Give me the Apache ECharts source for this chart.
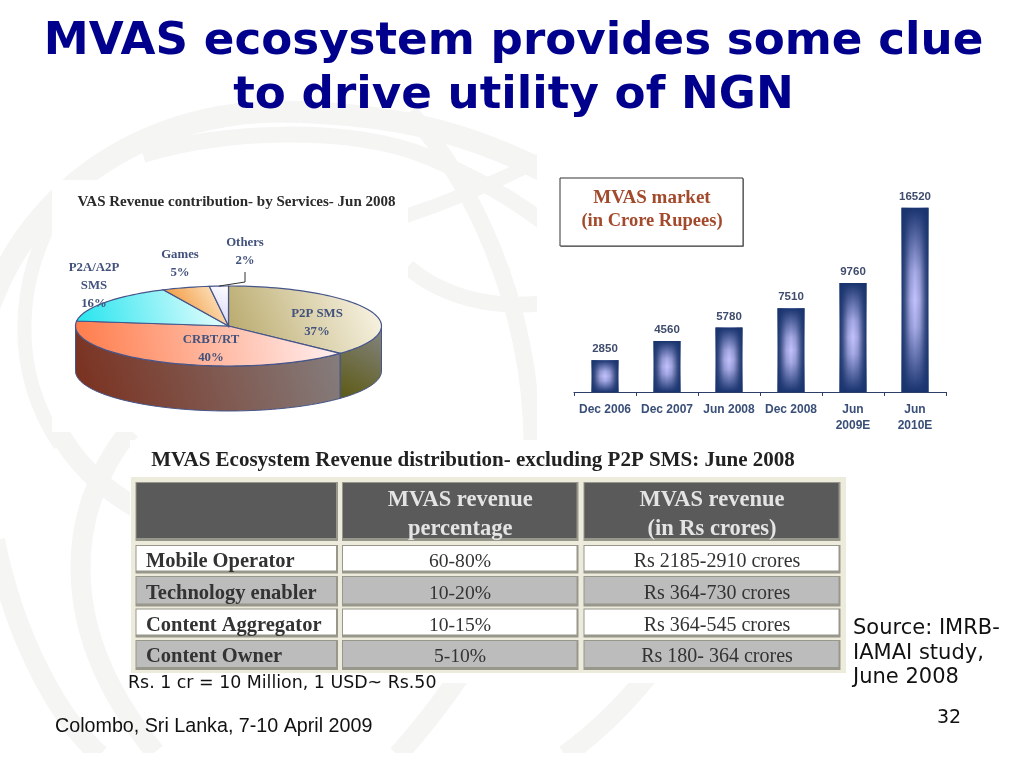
<!DOCTYPE html>
<html><head><meta charset="utf-8">
<style>html,body{margin:0;padding:0;background:#fff}#c{width:1024px;height:768px}</style>
<script src="https://cdn.jsdelivr.net/npm/echarts@6/dist/echarts.min.js"></script>
</head><body><div id="c"></div>
<script>
// ---- data ----
const barCategories = ['Dec 2006','Dec 2007','Jun 2008','Dec 2008','Jun\n2009E','Jun\n2010E'];
const barValues = [2850,4560,5780,7510,9760,16520];
const pieNames = ['P2P SMS','CRBT/RT','P2A/A2P\nSMS','Games','Others'];
const pieValues = [37,40,16,5,2];
const tableRows = ['Mobile Operator','Technology enabler','Content Aggregator','Content Owner'];
const tablePercent = ['60-80%','10-20%','10-15%','5-10%'];
const tableCrores = ['Rs 2185-2910 crores','Rs 364-730 crores','Rs 364-545 crores','Rs 180- 364 crores'];
const tableHeaders = [['MVAS revenue','percentage'],['MVAS revenue','(in Rs crores)']];

// ---- layout and styles (separate from the data) ----
const pieGeom = {cx:228.5, cy:326, rx:153, ry:40, depth:45};
const pieLabelPos = [[317,314],[211,340],[94,268],[180,255],[245,243]];
const pieTop = [['#b5a565','#fdf9ec'],['#ff7a48','#fff2f4'],['#22e4ee','#f4ffff'],['#ee7f10','#fff4de'],['#cfcff8','#ffffff']];
const pieSide = [['#5c5a12','#858585'],['#7a2e1c','#858080'],['#777','#777'],['#777','#777'],['#777','#777']];
const wmColor = '#f5f5f4';
const wmBands = [
 [-10,305,40,170,170,105,300,112,22],[300,112,390,115,470,130,560,180,22],
 [143,155,220,130,350,125,428,157,16],[428,157,470,175,510,195,560,235,16],
 [410,112,470,180,530,300,532,440,17],[408,267,440,295,490,310,545,303,16],
 [400,218,440,205,490,185,540,160,14],[60,205,15,280,10,370,60,445,14],
 [55,425,75,465,105,490,140,510,20],[130,430,65,510,55,630,155,752,20],
 [-5,540,15,640,60,720,100,755,20],[470,660,445,700,420,730,398,755,20],
 [660,660,630,700,600,730,565,755,20]
];
const frame = {x:131,y:477,w:715,h:196};
const cols = [[136.5,337],[343,577.5],[584.5,839.5]];
const headRow = [483,540];
const rowsY = [[546,572.5],[577,605.5],[609.5,636.5],[641,669]];
const rowText = [560,592,624,655];
const serif = '"Liberation Serif"', sans = '"Liberation Sans"', dv = '"DejaVu Sans"';

function rect(x,y,w,h,fill,stroke){return {type:'rect',shape:{x,y,width:w,height:h},style:{fill,stroke:stroke||null,lineWidth:stroke?1:0},silent:true};}
function txt(s,x,y,font,fill,align){return {type:'text',x,y:y+1.5,style:{text:s,font,fill,textAlign:align||'center',textVerticalAlign:'middle'},silent:true};}

const g = [];
wmBands.forEach(b=>g.push({type:'bezierCurve',shape:{x1:b[0],y1:b[1],cpx1:b[2],cpy1:b[3],cpx2:b[4],cpy2:b[5],x2:b[6],y2:b[7]},style:{stroke:wmColor,lineWidth:b[8],fill:null},silent:true}));
g.push(rect(0,753,1024,15,'#fff'));
g.push(rect(52,180,356,252,'#fff'));
g.push(rect(537,150,487,290,'#fff'));
g.push(rect(130,440,715,243,'#fff'));
// table
g.push(txt('VAS Revenue contribution- by Services- Jun 2008',236.5,201,'bold 15px '+serif,'#2b2b2b'));
g.push(txt('MVAS Ecosystem Revenue distribution- excluding P2P SMS: June 2008',473,459,'bold 21px '+serif,'#222'));
g.push(rect(frame.x,frame.y,frame.w,frame.h,'#ecebdc'));
function cell(c,r0,r1,fill){
  g.push(rect(c[0]-1,r0-1,c[1]-c[0]+2,r1-r0+2,'#97978c'));
  g.push(rect(c[0],r0,c[1]-c[0]-1,r1-r0-2,fill));
}
cols.forEach(c=>cell(c,headRow[0],headRow[1],'#5a5a5a'));
rowsY.forEach((r,i)=>cols.forEach(c=>cell(c,r[0],r[1],i%2?'#bcbcbc':'#ffffff')));
const headFont='bold 22.5px '+serif;
tableHeaders.forEach((h,i)=>{
  const cx=(cols[i+1][0]+cols[i+1][1])/2;
  g.push(txt(h[0],cx,499,headFont,'#e4e4e4'));
  g.push(txt(h[1],cx,528,headFont,'#e4e4e4'));
});
tableRows.forEach((s,i)=>{
  g.push(txt(s,146,rowText[i],'bold 20.5px '+serif,'#333','left'));
  g.push(txt(tablePercent[i],460,rowText[i],'19.6px '+serif,'#333'));
  g.push(txt(tableCrores[i],717,rowText[i],'20px '+serif,'#333'));
});
// bar chart caption box
g.push(rect(561,179,183,68,'#999'));
g.push(rect(560,178,183,68,'#fff','#333'));
g.push(txt('MVAS market',652,197,'bold 19px '+serif,'#a34a2c'));
g.push(txt('(in Crore Rupees)',652,220,'bold 18.5px '+serif,'#a34a2c'));
// notes
g.push(txt('Rs. 1 cr = 10 Million, 1 USD~ Rs.50',128,682,'17.4px '+dv,'#111','left'));
g.push(txt('Source: IMRB-',853,627,'21px '+dv,'#111','left'));
g.push(txt('IAMAI study,',853,652,'21px '+dv,'#111','left'));
g.push(txt('June 2008',853,676,'21px '+dv,'#111','left'));
g.push(txt('Colombo, Sri Lanka, 7-10 April 2009',55,725,'19.7px '+sans,'#111','left'));
g.push(txt('32',937,717,'19px '+dv,'#111','left'));

const total = pieValues.reduce((a,b)=>a+b,0);
function pt(a,dy){const t=a*Math.PI/180;return [pieGeom.cx+pieGeom.rx*Math.sin(t),pieGeom.cy-pieGeom.ry*Math.cos(t)+(dy||0)];}
function grad(c){return {type:'linear',x:0,y:1,x2:1,y2:0,colorStops:[{offset:0,color:c[0]},{offset:1,color:c[1]}]};}
function renderSlice(params,api){
  const i=params.dataIndex, val=api.value(0);
  let start=0; for(let k=0;k<i;k++) start+=pieValues[k];
  const a0=start/total*360, a1=(start+val)/total*360;
  const children=[];
  const s0=Math.max(a0,90), s1=Math.min(a1,270);
  const edge='#46558a';
  if(s1>s0){
    const up=[],down=[];
    for(let a=s0;a<s1;a+=2){up.push(pt(a));down.push(pt(a,pieGeom.depth));}
    up.push(pt(s1));down.push(pt(s1,pieGeom.depth));
    children.push({type:'polygon',shape:{points:up.concat(down.reverse())},style:{fill:grad(pieSide[i]),stroke:edge,lineWidth:1}});
  }
  const top=[[pieGeom.cx,pieGeom.cy]];
  for(let a=a0;a<a1;a+=2) top.push(pt(a));
  top.push(pt(a1));
  children.push({type:'polygon',shape:{points:top},style:{fill:grad(pieTop[i]),stroke:edge,lineWidth:1.2}});
  const lines=pieNames[i].split('\n').concat(val+'%');
  const p=pieLabelPos[i];
  lines.forEach((s,k)=>children.push({type:'text',x:p[0],y:p[1]+k*18,style:{text:s,font:'bold 12.8px '+serif,fill:'#42527c',textAlign:'center',textVerticalAlign:'middle'}}));
  if(i===pieValues.length-1){
    children.push({type:'polyline',shape:{points:[[245,272],[245,282],pt((a0+a1)/2)]},style:{stroke:'#333',lineWidth:1,fill:null}});
  }
  return {type:'group',children};
}

const chart = echarts.init(document.getElementById('c'),null,{renderer:'canvas',width:1024,height:768});
chart.setOption({
  animation:false,
  backgroundColor:'#fff',
  title:{text:'MVAS ecosystem provides some clue\nto drive utility of NGN',left:508.5,top:10,textAlign:'center',
    textStyle:{fontFamily:'DejaVu Sans',fontWeight:'bold',fontSize:45.2,lineHeight:54,color:'#00008c'}},
  graphic:{elements:g},
  grid:{left:574,width:372,top:168.8,height:223.2},
  xAxis:{type:'category',data:barCategories,
    axisLine:{lineStyle:{color:'#2d3f66',width:1.2}},
    axisTick:{show:true,length:4,lineStyle:{color:'#2d3f66'}},
    axisLabel:{interval:0,margin:10,lineHeight:16,color:'#3a4f78',fontFamily:'Liberation Sans',fontWeight:'bold',fontSize:12}},
  yAxis:{type:'value',min:0,max:20000,show:false,splitLine:{show:false}},
  series:[
    {type:'bar',data:barValues,barWidth:27,barGap:'-100%',
     itemStyle:{color:{type:'linear',x:0,y:0,x2:1,y2:0,colorStops:[{offset:0,color:'#18336e'},{offset:.12,color:'#3f5288'},{offset:.32,color:'#a2a5de'},{offset:.5,color:'#c2c2ff'},{offset:.68,color:'#a2a5de'},{offset:.88,color:'#3f5288'},{offset:1,color:'#18336e'}]}},
     label:{show:true,position:'top',distance:5,color:'#3f4c6c',fontFamily:'Liberation Sans',fontWeight:'bold',fontSize:11.5}},
    {type:'bar',data:barValues,barWidth:27,barGap:'-100%',
     itemStyle:{color:{type:'linear',x:0,y:0,x2:0,y2:1,colorStops:[{offset:0,color:'rgba(24,51,110,1)'},{offset:.12,color:'rgba(24,51,110,.7)'},{offset:.35,color:'rgba(24,51,110,.15)'},{offset:.5,color:'rgba(24,51,110,0)'},{offset:.65,color:'rgba(24,51,110,.15)'},{offset:.88,color:'rgba(24,51,110,.7)'},{offset:1,color:'rgba(24,51,110,1)'}]}}},
    {type:'custom',coordinateSystem:'none',silent:true,data:pieValues.map((v,i)=>({name:pieNames[i],value:[v]})),encode:{value:0},renderItem:renderSlice}
  ]
});
</script></body></html>
